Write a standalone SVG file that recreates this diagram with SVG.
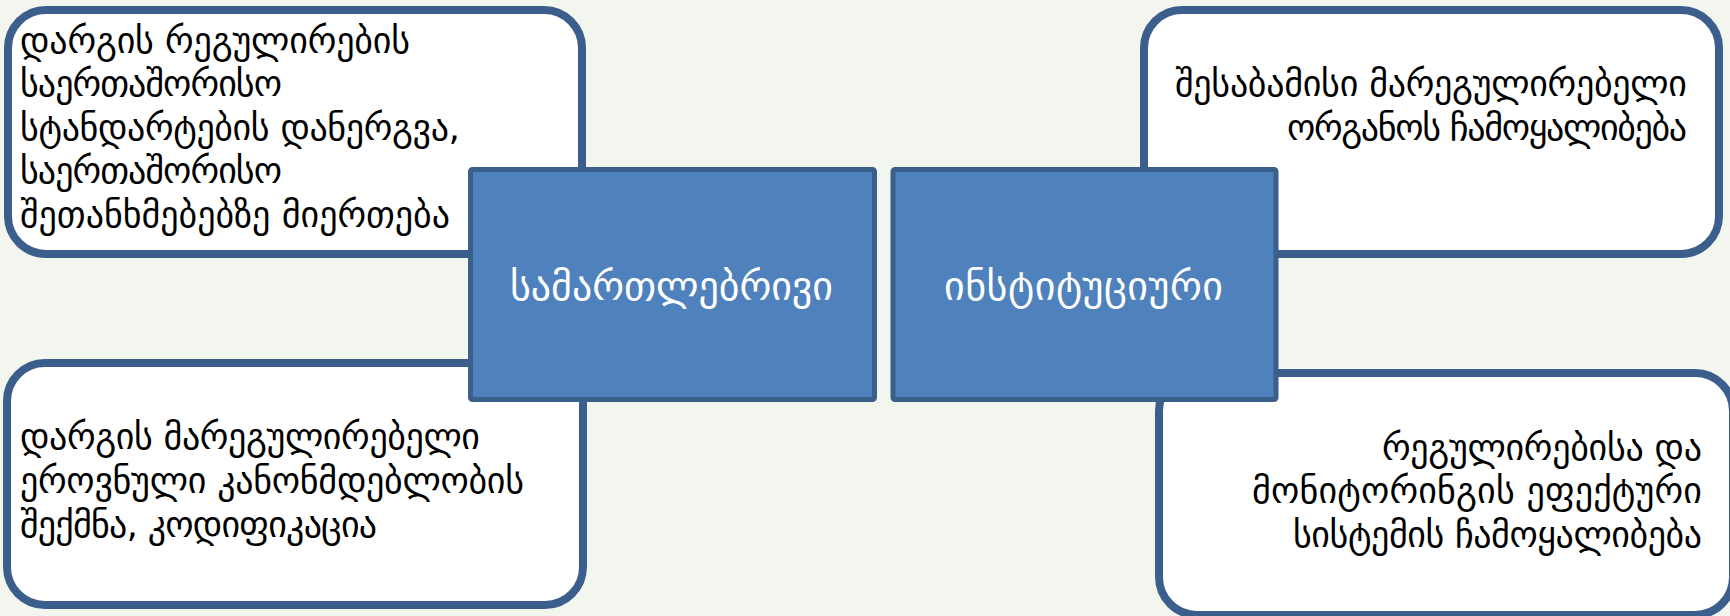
<svg xmlns="http://www.w3.org/2000/svg" width="1730" height="616" viewBox="0 0 1730 616">
<style>
.box{fill:#ffffff;stroke:#3b5e8c;stroke-width:8}
.sq{fill:#4f81bd;stroke:#3a5f8b;stroke-width:5}
.t{font-family:"DejaVu Sans",sans-serif;font-size:36px;fill:#000000}
.w{font-family:"DejaVu Sans",sans-serif;font-size:40px;fill:#ffffff;text-anchor:middle}
.r{text-anchor:end}
</style>
<rect x="0" y="0" width="1730" height="616" fill="#f3f6ee"/>
<g id="box-top-left">
<rect class="box" x="8" y="10" width="574" height="244" rx="38"/>
<text class="t" x="20" y="53" textLength="390">დარგის რეგულირების</text>
<text class="t" x="20" y="96" textLength="262">საერთაშორისო</text>
<text class="t" x="20" y="140" textLength="440">სტანდარტების დანერგვა,</text>
<text class="t" x="20" y="183" textLength="262">საერთაშორისო</text>
<text class="t" x="20" y="227" textLength="430">შეთანხმებებზე მიერთება</text>
</g>
<g id="box-top-right">
<rect class="box" x="1144" y="10" width="575" height="244" rx="38"/>
<text class="t r" x="1687" y="96" textLength="512">შესაბამისი მარეგულირებელი</text>
<text class="t r" x="1687" y="140" textLength="400">ორგანოს ჩამოყალიბება</text>
</g>
<g id="box-bottom-left">
<rect class="box" x="7" y="363" width="576" height="242" rx="38"/>
<text class="t" x="20" y="449" textLength="460">დარგის მარეგულირებელი</text>
<text class="t" x="20" y="493" textLength="504">ეროვნული კანონმდებლობის</text>
<text class="t" x="20" y="537" textLength="357">შექმნა, კოდიფიკაცია</text>
</g>
<g id="box-bottom-right">
<rect class="box" x="1159" y="373" width="574" height="242" rx="38"/>
<text class="t r" x="1702" y="460" textLength="320">რეგულირებისა და</text>
<text class="t r" x="1702" y="503" textLength="450">მონიტორინგის ეფექტური</text>
<text class="t r" x="1702" y="547" textLength="409">სისტემის ჩამოყალიბება</text>
</g>
<g id="connectors"></g>
<g id="node-legal">
<rect class="sq" x="470.5" y="169.5" width="404" height="230" rx="2"/>
<text class="w" x="671.5" y="300" textLength="323">სამართლებრივი</text>
</g>
<g id="node-institutional">
<rect class="sq" x="893" y="169.5" width="383" height="230" rx="2"/>
<text class="w" x="1083.5" y="300" textLength="279">ინსტიტუციური</text>
</g>
</svg>
